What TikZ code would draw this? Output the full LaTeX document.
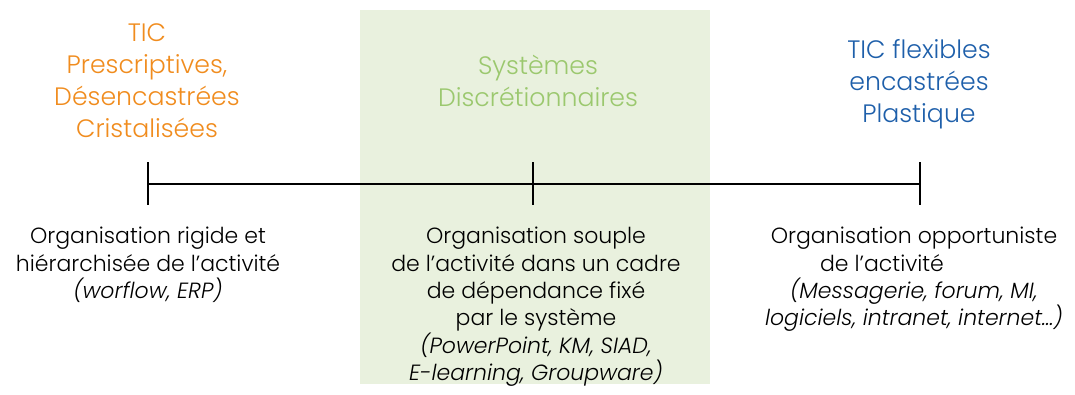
\documentclass[tikz,border=0pt]{standalone}
\usepackage{fontspec}
\setmainfont{Poppins}[UprightFont=* Light,ItalicFont=* Light Italic]
\definecolor{ticorange}{RGB}{240,140,30}
\definecolor{ticgreen}{RGB}{155,200,110}
\definecolor{zonefill}{RGB}{233,241,222}
\definecolor{ticblue}{RGB}{30,95,170}
\begin{document}
\begin{tikzpicture}[x=1pt,y=-1pt,
  axis/.style={line width=2pt,black},
  heading/.style={anchor=north,inner sep=0pt,align=center,
    font=\fontsize{25.2}{32}\selectfont},
  desc/.style={anchor=north,inner sep=0pt,align=center,
    font=\fontsize{22}{27.4}\selectfont,text=black}]
\useasboundingbox (0,0) rectangle (1075,394);

% shaded middle zone
\fill[zonefill] (360,10) rectangle (710,384);

% scale with three ticks
\coordinate (L) at (148,184);
\coordinate (M) at (533,184);
\coordinate (R) at (920,184);
\draw[axis] (L) -- (R);
\draw[axis] (L) ++(0,-22) -- ++(0,43);
\draw[axis] (M) ++(0,-22) -- ++(0,43);
\draw[axis] (R) ++(0,-22) -- ++(0,43);

% headings
\node[heading,text=ticorange] (hl) at (147,23)
  {TIC\\Prescriptives,\\Désencastrées\\Cristalisées};
\node[heading,text=ticgreen] (hm) at (538,55)
  {Systèmes\\Discrétionnaires};
\node[heading,text=ticblue] (hr) at (919,39)
  {TIC flexibles\\encastrées\\Plastique};

% descriptions
\node[desc] (dl) at (148,227)
  {Organisation rigide et\\hiérarchisée de l’activité\\\textit{(worflow, ERP)}};
\node[desc] (dm) at (536,227)
  {Organisation souple\\de l’activité dans un cadre\\de dépendance fixé\\par le système\\\textit{(PowerPoint, KM, SIAD,}\\\textit{E-learning, Groupware)}};
\node[desc] (dr) at (914,227)
  {Organisation opportuniste\\de l’activité\hspace*{64pt}\null\\\textit{(Messagerie, forum, MI,}\\\textit{logiciels, intranet, internet…)}};
\end{tikzpicture}
\end{document}
